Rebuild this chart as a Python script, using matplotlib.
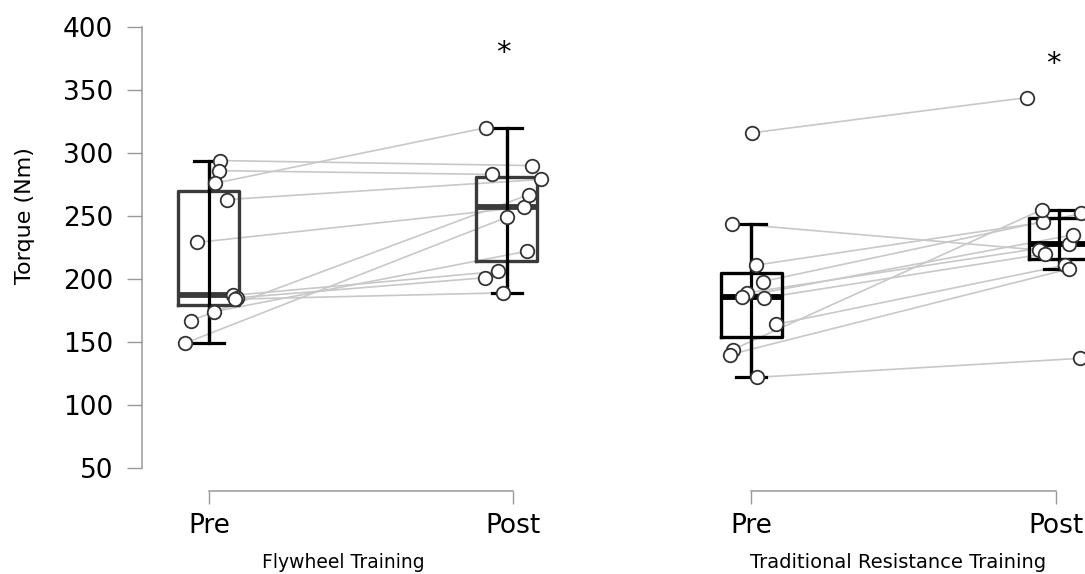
import numpy as np
import matplotlib.pyplot as plt
from matplotlib import cbook

# Peak torque (Nm) per participant, pre and post lists are paired by index
fw_pre = [294, 286, 276, 263, 229, 187, 185, 184, 174, 167, 149]
fw_post = [290, 283, 320, 279, 257, 206, 201, 189, 222, 267, 249]
trt_pre = [316, 244, 211, 198, 189, 186, 185, 164, 144, 140, 122]
trt_post = [344, 223, 245, 252, 228, 235, 220, 211, 255, 208, 137]

# horizontal jitter of each dot
fw_pre_jit = [0.036, 0.033, 0.02, 0.059, -0.039, 0.079, 0.092, 0.085, 0.016, -0.059, -0.079]
fw_post_jit = [0.062, -0.069, -0.089, 0.092, 0.036, -0.049, -0.092, -0.033, 0.046, 0.053, -0.02]
trt_pre_jit = [0.003, -0.062, 0.016, 0.039, -0.013, -0.03, 0.043, 0.082, -0.059, -0.069, 0.02]
trt_post_jit = [-0.095, -0.056, -0.043, 0.082, 0.043, 0.056, -0.036, 0.03, -0.046, 0.043, 0.079]

time_labels = ['Pre', 'Post']
group_labels = ['Flywheel Training', 'Traditional Resistance Training']
yticks = [50, 100, 150, 200, 250, 300, 350, 400]

plt.rcParams['font.family'] = 'DejaVu Sans'

fig = plt.figure(figsize=(10.85, 5.74), dpi=100)
ax1 = fig.add_axes([142 / 1085, 0.1441, 1.44 * 304 / 1085, 0.8308])
ax2 = fig.add_axes([690 / 1085, 0.1441, 1.40 * 305 / 1085, 0.8308])


def draw_panel(ax, pre, post, pre_jit, post_jit, box_color, positions):
    # subject lines
    for a, b, ja, jb in zip(pre, post, pre_jit, post_jit):
        ax.plot([0 + ja, 1 + jb], [a, b], color='#c8c8c8', lw=1.2, zorder=1)

    stats = cbook.boxplot_stats([pre, post])
    ax.bxp(stats, positions=positions, widths=0.2, showfliers=False,
           boxprops=dict(color=box_color, lw=2.4),
           medianprops=dict(color=box_color, lw=4.2, solid_capstyle='butt'),
           whiskerprops=dict(color='black', lw=2.3),
           capprops=dict(color='black', lw=2.3),
           zorder=2)
    # whisker line runs straight through the box
    ax.vlines(positions, [s['whislo'] for s in stats], [s['whishi'] for s in stats],
              color='black', lw=2.3, zorder=2.5)

    ax.scatter(np.array(pre_jit), pre, s=95, facecolor='white', edgecolor='#333333',
               lw=1.3, zorder=4)
    ax.scatter(1 + np.array(post_jit), post, s=95, facecolor='white', edgecolor='#333333',
               lw=1.3, zorder=4)

    ax.set_ylim(31.5, 410)
    ax.spines['top'].set_visible(False)
    ax.spines['right'].set_visible(False)
    ax.spines['bottom'].set_bounds(0, 1)
    ax.spines['bottom'].set_color('#999999')
    ax.spines['bottom'].set_linewidth(1.1)
    ax.set_xticks([0, 1])
    ax.set_xticklabels(time_labels)
    ax.tick_params(axis='x', length=9.4, width=1, color='#999999', labelsize=19, pad=6)


draw_panel(ax1, fw_pre, fw_post, fw_pre_jit, fw_post_jit, '#3a3a3a', [0, 0.98])
draw_panel(ax2, trt_pre, trt_post, trt_pre_jit, trt_post_jit, 'black', [0, 1.01])

ax1.set_xlim(-0.22, 1.22)
ax2.set_xlim(-0.2, 1.2)

ax1.spines['left'].set_bounds(50, 400)
ax1.spines['left'].set_color('#999999')
ax1.spines['left'].set_linewidth(1.1)
ax1.set_yticks(yticks)
ax1.tick_params(axis='y', length=10.8, width=1, color='#999999', labelsize=19, pad=10)

ax2.spines['left'].set_visible(False)
ax2.set_yticks([])

# significance markers
ax1.text(0.97, 379, '*', ha='center', va='center', fontsize=21)
ax2.text(0.99, 371, '*', ha='center', va='center', fontsize=21)

fig.text(25 / 1085, 1 - 216 / 574, 'Torque (Nm)', rotation=90, ha='center', va='center', fontsize=16)
fig.text(343 / 1085, 1 - 562 / 574, group_labels[0], ha='center', va='center', fontsize=13.5)
fig.text(898 / 1085, 1 - 562 / 574, group_labels[1], ha='center', va='center', fontsize=14)

fig.savefig('out.png', dpi=100)
